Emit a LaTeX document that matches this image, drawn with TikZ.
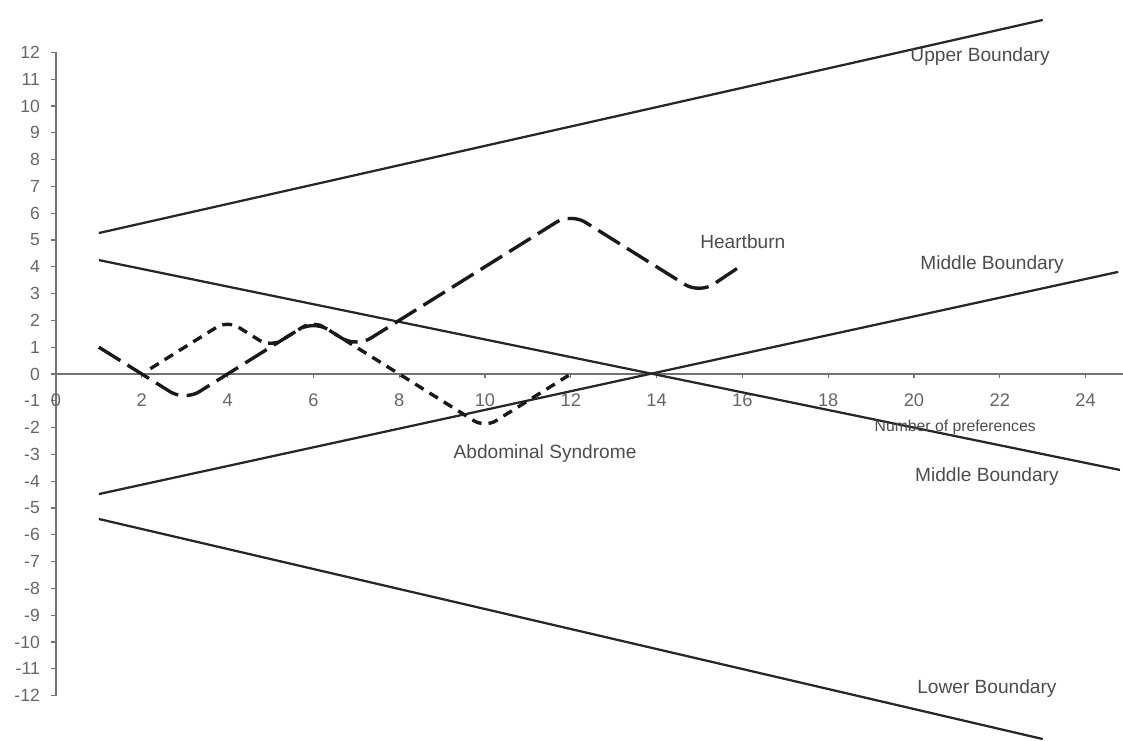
\documentclass[tikz,border=0pt]{standalone}
\usepackage{fontspec}
\setmainfont{Liberation Sans}
\begin{document}
\begin{tikzpicture}[x=1.0725cm,y=0.67cm,
    bound/.style={line width=1.6pt, black!85},
    axisline/.style={line width=1.2pt, black!55},
    bndlabel/.style={text=black!70, font=\fontsize{13.6}{16}\selectfont, inner sep=0pt},
    ticklabel/.style={text=black!60, font=\fontsize{12.5}{14}\selectfont, inner sep=0pt},
    heart/.style={line width=2.4pt, black!90, dash pattern=on 18pt off 6pt, rounded corners=12pt},
    abdo/.style={line width=2.4pt, black!90, dash pattern=on 7pt off 5pt, rounded corners=9pt}]
    \useasboundingbox (-1.305,-13.69) rectangle (24.872,13.955);

    % axes
    \draw[axisline] (0,12) -- (0,-12);
    \draw[axisline] (0,0) -- (24.872,0);
    \foreach \y in {-12,...,12}{
        \draw[axisline, line width=0.9pt] (-0.12,\y) -- (0,\y);
        \node[ticklabel, anchor=east] (yl\y) at (-0.37,\y) {\y};
    }
    \foreach \x in {0,2,...,24}{
        \draw[axisline, line width=0.9pt] (\x,0) -- (\x,-0.15);
        \node[ticklabel, font=\fontsize{13}{15}\selectfont] (xl\x) at (\x,-0.97) {\x};
    }

    % boundaries
    \coordinate (ub1) at (1,5.26);    \coordinate (ub2) at (23,13.21);
    \coordinate (mbd1) at (1,4.25);   \coordinate (mbd2) at (24.8,-3.58);
    \coordinate (mba1) at (1,-4.48);  \coordinate (mba2) at (24.76,3.81);
    \coordinate (lb1) at (1,-5.41);   \coordinate (lb2) at (23,-13.62);
    \draw[bound] (ub1) -- (ub2);
    \draw[bound] (mbd1) -- (mbd2);
    \draw[bound] (mba1) -- (mba2);
    \draw[bound] (lb1) -- (lb2);

    % preference walks
    \draw[heart] (1,1) -- (3,-1) -- (6,2) -- (7,1) -- (12,6) -- (15,3) -- (16,4.07);
    \draw[abdo] (2.2,0.2) -- (4,2) -- (5,1) -- (6,2) -- (10,-2) -- (11.95,-0.05);

    % labels
    \node[bndlabel] (upper) at (21.54,11.83) {Upper Boundary};
    \node[bndlabel] (midup) at (21.82,4.07) {Middle Boundary};
    \node[bndlabel] (heartburn) at (16.01,4.93) {Heartburn};
    \node[bndlabel] (abdominal) at (11.40,-2.95) {Abdominal Syndrome};
    \node[bndlabel, font=\fontsize{11.2}{13}\selectfont] (prefs) at (20.96,-1.98) {Number of preferences};
    \node[bndlabel] (midlow) at (21.70,-3.81) {Middle Boundary};
    \node[bndlabel] (lower) at (21.70,-11.72) {Lower Boundary};
\end{tikzpicture}
\end{document}
